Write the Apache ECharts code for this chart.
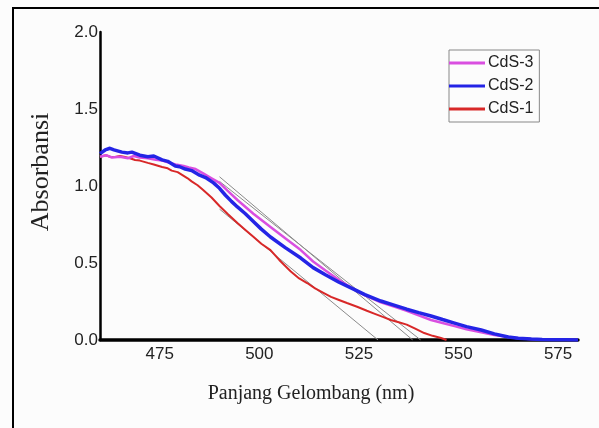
<!DOCTYPE html>
<html>
<head>
<meta charset="utf-8">
<script src="https://cdn.jsdelivr.net/npm/echarts@6/dist/echarts.min.js"></script>
<style>
html,body{margin:0;padding:0;background:#fcfcfc;}
#chart{width:599px;height:428px;}
</style>
</head>
<body>
<div id="chart"></div>
<script>
// ---- data (wavelength nm, absorbance) ----
const seriesNames = ['CdS-3', 'CdS-2', 'CdS-1'];
const xTickLabels = [475, 500, 525, 550, 575];
const yTickLabels = [0.0, 0.5, 1.0, 1.5, 2.0];

const cds3 = [[460,1.19],[461.5,1.20],[463,1.185],[465,1.19],[467,1.18],[468.5,1.195],[470,1.185],[472,1.18],[474,1.17],[475.6,1.165],[477.5,1.15],[479,1.14],[481,1.13],[482.3,1.12],[484,1.11],[486,1.08],[488,1.05],[490,1.02],[492,0.97],[494.5,0.909],[498.5,0.82],[502.8,0.734],[506.5,0.66],[510.4,0.584],[513.5,0.51],[516.7,0.45],[520,0.39],[523,0.34],[526.5,0.29],[530.5,0.245],[534,0.215],[537,0.19],[540,0.16],[543.1,0.13],[546,0.11],[549,0.09],[552,0.07],[555.7,0.05],[559,0.033],[562.5,0.02],[565,0.012],[568,0.007],[571,0.004],[574,0.002],[577,0.001],[580,0]];

const cds2 = [[460,1.21],[461.3,1.234],[462.5,1.245],[463.5,1.235],[465.5,1.22],[467,1.215],[468,1.22],[470,1.20],[472,1.19],[473.5,1.195],[475.6,1.17],[477,1.16],[478.9,1.13],[480,1.125],[481.4,1.11],[483,1.10],[485,1.07],[486.5,1.055],[488.5,1.02],[490,0.985],[491.5,0.94],[493,0.90],[494.5,0.864],[496.5,0.82],[498.5,0.77],[500.5,0.72],[502.8,0.669],[506.5,0.60],[510.4,0.532],[513.5,0.47],[516.7,0.422],[520,0.375],[523,0.338],[526.5,0.295],[530.5,0.253],[534,0.225],[537,0.20],[540,0.178],[543.1,0.156],[546,0.133],[549,0.11],[552,0.087],[555.7,0.065],[559,0.04],[562.5,0.019],[565,0.011],[568.3,0.006],[571,0.003],[574,0.002],[577,0.001],[580,0]];

const cds1 = [[460,1.19],[461.5,1.20],[462.5,1.19],[463.8,1.188],[465,1.195],[466,1.19],[467.5,1.18],[468.8,1.169],[470,1.165],[472,1.15],[473.5,1.14],[475.6,1.123],[477,1.115],[478,1.10],[479.5,1.09],[480.7,1.071],[482,1.05],[483,1.03],[484.5,1.005],[485.9,0.974],[488,0.925],[490,0.87],[492,0.82],[494.5,0.76],[496.5,0.715],[498.5,0.67],[500.5,0.625],[502.8,0.584],[505,0.52],[507.9,0.445],[510,0.40],[512,0.37],[514,0.335],[516.2,0.305],[518,0.28],[520,0.26],[522,0.24],[524.7,0.214],[527,0.19],[529,0.17],[531,0.15],[533,0.13],[535,0.115],[537,0.10],[539,0.075],[541.4,0.045],[543.5,0.027],[545.6,0.013],[547,0]];

// tangent (extrapolation) lines
const tan3 = [[490,1.06],[538.5,0]];
const tan2 = [[490,1.03],[540.5,0]];
const tan1 = [[490,0.85],[529.8,0]];

const colors = { 'CdS-3': '#d94fe0', 'CdS-2': '#2424e6', 'CdS-1': '#d82828' };

const chart = echarts.init(document.getElementById('chart'));

function tangent(data) {
  return {
    type: 'line', data: data, symbol: 'none', silent: true,
    lineStyle: { color: '#8a8a8a', width: 1 }, z: 1
  };
}

const option = {
  backgroundColor: '#fcfcfc',
  animation: false,
  grid: { left: 100, right: 21, top: 32, bottom: 88, containLabel: false },
  legend: {
    orient: 'vertical',
    left: 449, top: 50,
    data: seriesNames,
    icon: 'rect',
    itemWidth: 36, itemHeight: 3,
    itemGap: 7,
    padding: [5, 6, 5, 0],
    borderColor: '#888', borderWidth: 1,
    textStyle: { fontFamily: 'Liberation Sans, Arial, sans-serif', fontSize: 16, color: '#222', padding: [0,0,0,-2] }
  },
  xAxis: {
    type: 'value', min: 460, max: 580, interval: 5,
    name: 'Panjang Gelombang (nm)', nameLocation: 'middle', nameGap: 44,
    nameTextStyle: { fontFamily: 'Liberation Serif, Times New Roman, serif', fontSize: 20, color: '#222', padding: [0, 56, 0, 0] },
    axisLine: { lineStyle: { color: '#000', width: 3.5 } },
    axisTick: { show: false },
    splitLine: { show: false },
    axisLabel: {
      margin: 6, fontFamily: 'Liberation Sans, Arial, sans-serif', fontSize: 17, color: '#222',
      formatter: function (v) { return xTickLabels.indexOf(v) >= 0 ? String(v) : ''; }
    }
  },
  yAxis: {
    type: 'value', min: 0, max: 2, interval: 0.5,
    name: 'Absorbansi', nameLocation: 'middle', nameGap: 46, nameRotate: 90,
    nameTextStyle: { fontFamily: 'Liberation Serif, Times New Roman, serif', fontSize: 26, color: '#222', padding: [0, 0, 0, 28] },
    axisLine: { show: true, lineStyle: { color: '#000', width: 2.5 } },
    axisTick: { show: false },
    splitLine: { show: false },
    axisLabel: {
      margin: 2, fontFamily: 'Liberation Sans, Arial, sans-serif', fontSize: 17, color: '#222',
      formatter: function (v) { return yTickLabels.indexOf(v) >= 0 ? v.toFixed(1) : ''; }
    }
  },
  graphic: [{
    type: 'rect', silent: true,
    shape: { x: 13, y: 8, width: 700, height: 600 },
    style: { fill: 'none', stroke: '#000', lineWidth: 2 }
  }],
  series: [
    tangent(tan1), tangent(tan2), tangent(tan3),
    { name: 'CdS-1', type: 'line', data: cds1, symbol: 'none', lineStyle: { color: colors['CdS-1'], width: 2 }, itemStyle: { color: colors['CdS-1'] }, z: 3 },
    { name: 'CdS-3', type: 'line', data: cds3, symbol: 'none', lineStyle: { color: colors['CdS-3'], width: 2.5 }, itemStyle: { color: colors['CdS-3'] }, z: 3 },
    { name: 'CdS-2', type: 'line', data: cds2, symbol: 'none', lineStyle: { color: colors['CdS-2'], width: 3.5 }, itemStyle: { color: colors['CdS-2'] }, z: 4 }
  ]
};
chart.setOption(option);
</script>
</body>
</html>
